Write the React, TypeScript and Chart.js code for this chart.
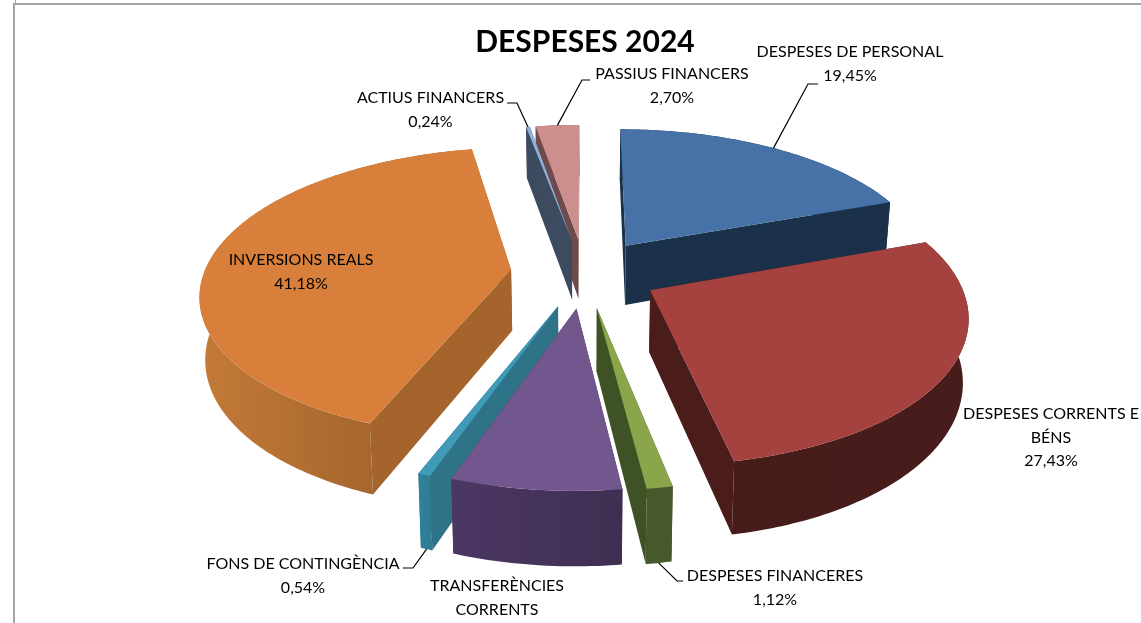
import React, { useEffect, useRef } from "react";
import { Chart, registerables } from "chart.js";

Chart.register(...registerables);

const categories = [
  "DESPESES DE PERSONAL",
  "DESPESES CORRENTS E BÉNS",
  "DESPESES FINANCERES",
  "TRANSFERÈNCIES CORRENTS",
  "FONS DE CONTINGÈNCIA",
  "INVERSIONS REALS",
  "ACTIUS FINANCERS",
  "PASSIUS FINANCERS",
];
const shares = [19.45, 27.43, 1.12, 7.34, 0.54, 41.18, 0.24, 2.7];
const topColors = ["#4672A8", "#A54240", "#8AA54A", "#72568E", "#3F9BB7", "#D8803B", "#93B1D8", "#CD8F8E"];
const wallColors = ["#1B3049", "#4A1D1B", "#3F5226", "#443256", "#2F7388", "#A4642B", "#3D4B60", "#6E4B4A"];
const rimFrom = ["#1B3049", "#461C19", "#47592A", "#4B3763", "#2F8099", "#C47A38", "#3D4B60", "#6E4B4A"];
const rimTo = ["#1B3049", "#481C1B", "#47592A", "#3E2F52", "#2F7D95", "#945A27", "#3D4B60", "#6E4B4A"];
const paintOrder = [7, 6, 0, 5, 1, 4, 3, 2];

// label layout: text lines per category, centre x, first baseline-centre y
const labelLines = [
  ["DESPESES DE PERSONAL"],
  ["DESPESES CORRENTS E", "BÉNS"],
  ["DESPESES FINANCERES"],
  ["TRANSFERÈNCIES", "CORRENTS"],
  ["FONS DE CONTINGÈNCIA"],
  ["INVERSIONS REALS"],
  ["ACTIUS FINANCERS"],
  ["PASSIUS FINANCERS"],
];
const labelX = [850, 1051, 775, 497, 303, 301, 430.5, 672];
const labelY = [52, 414, 576, 586, 564, 260, 98, 74];
// leader lines: category index, anchored on the rim's top (0) or bottom (1) edge, elbow and end
const leaders = [
  { i: 0, z: 0, elbow: [808, 84], end: [818, 84] },
  { i: 6, z: 0, elbow: [517, 103], end: [507, 103] },
  { i: 7, z: 0, elbow: [582, 80], end: [590, 80] },
  { i: 4, z: 1, elbow: [413, 568], end: [403, 568] },
  { i: 2, z: 1, elbow: [677, 581], end: [683, 581] },
];

const VIEW = { cx: 584.5, cy: 273, radius: 307, squash: 0.463, persp: 1990, depth: 61, lowerScale: 0.985 };

const project = (u: number, v: number, z: number) => {
  const s = 1 / (1 + v / VIEW.persp);
  const xs = z ? VIEW.lowerScale : 1;
  return [VIEW.cx + u * s * xs, VIEW.cy - VIEW.squash * v * s + z * VIEW.depth * s];
};

const geometry = (el: any) => {
  const p = el.getProps(["startAngle", "endAngle", "outerRadius"], true);
  const off = el.options.offset;
  const mid = (p.startAngle + p.endAngle) / 2;
  return { a0: p.startAngle, a1: p.endAngle, ox: Math.cos(mid) * off, oy: -Math.sin(mid) * off };
};

const polygon = (ctx: CanvasRenderingContext2D, pts: number[][]) => {
  ctx.beginPath();
  pts.forEach((q, i) => (i ? ctx.lineTo(q[0], q[1]) : ctx.moveTo(q[0], q[1])));
  ctx.closePath();
};

const pie3d = {
  id: "pie3d",
  beforeDatasetDraw(chart: any) {
    const ctx: CanvasRenderingContext2D = chart.ctx;
    const arcs = chart.getDatasetMeta(0).data;
    ctx.save();
    paintOrder.forEach((i) => {
      const g = geometry(arcs[i]);
      const n = Math.max(2, Math.ceil((g.a1 - g.a0) * 60));
      const rim = (z: number) => {
        const pts: number[][] = [];
        for (let k = 0; k <= n; k++) {
          const a = g.a0 + ((g.a1 - g.a0) * k) / n;
          pts.push(project(g.ox + VIEW.radius * Math.cos(a), g.oy - VIEW.radius * Math.sin(a), z));
        }
        return pts;
      };
      const top = rim(0);
      const low = rim(1);
      const tip0 = project(g.ox, g.oy, 0);
      const tip1 = project(g.ox, g.oy, 1);
      // radial walls
      ctx.fillStyle = wallColors[i];
      polygon(ctx, [tip0, top[0], low[0], tip1]);
      ctx.fill();
      polygon(ctx, [tip0, top[n], low[n], tip1]);
      ctx.fill();
      // outer wall
      const xs = top.map((q) => q[0]);
      const grad = ctx.createLinearGradient(Math.min(...xs), 0, Math.max(...xs) + 1, 0);
      grad.addColorStop(0, rimFrom[i]);
      grad.addColorStop(1, rimTo[i]);
      ctx.fillStyle = grad;
      polygon(ctx, [...top, ...low.slice().reverse()]);
      ctx.fill();
      // top face
      polygon(ctx, [tip0, ...top]);
      ctx.fillStyle = topColors[i];
      ctx.fill();
    });
    ctx.restore();
    return false;
  },
  afterDatasetsDraw(chart: any) {
    const ctx: CanvasRenderingContext2D = chart.ctx;
    const arcs = chart.getDatasetMeta(0).data;
    ctx.save();
    ctx.strokeStyle = "#000";
    ctx.lineWidth = 1.2;
    leaders.forEach((l) => {
      const g = geometry(arcs[l.i]);
      const mid = (g.a0 + g.a1) / 2;
      const a = project(g.ox + VIEW.radius * Math.cos(mid), g.oy - VIEW.radius * Math.sin(mid), l.z);
      ctx.beginPath();
      ctx.moveTo(a[0], a[1]);
      ctx.lineTo(l.elbow[0], l.elbow[1]);
      ctx.lineTo(l.end[0], l.end[1]);
      ctx.stroke();
    });
    ctx.fillStyle = "#000";
    ctx.font = "16px Lato";
    ctx.textAlign = "center";
    ctx.textBaseline = "middle";
    labelLines.forEach((lines, i) => {
      const all = [...lines, shares[i].toFixed(2).replace(".", ",") + "%"];
      all.forEach((t, k) => ctx.fillText(t, labelX[i], labelY[i] + k * 23.5));
    });
    ctx.restore();
  },
};

export default function App() {
  const ref = useRef<HTMLCanvasElement>(null);
  useEffect(() => {
    const chart = new Chart(ref.current!, {
      type: "pie",
      data: {
        labels: categories,
        datasets: [{ data: shares, backgroundColor: topColors, offset: 74, borderWidth: 0 }],
      },
      options: {
        animation: false,
        responsive: false,
        layout: { padding: { left: 29 } },
        plugins: {
          legend: { display: false },
          tooltip: { enabled: false },
          title: {
            display: true,
            text: "DESPESES 2024",
            color: "#000",
            font: { family: "Lato", size: 30, weight: "bold" },
            padding: { top: 24, bottom: 0 },
          },
        },
      },
      plugins: [pie3d],
    } as any);
    return () => chart.destroy();
  }, []);
  return (
    <div style={{ position: "absolute", left: 0, top: 0, width: 1141, height: 623, overflow: "hidden", background: "#fff" }}>
      <canvas ref={ref} width={1141} height={623} style={{ display: "block" }} />
      <div style={{ position: "absolute", left: 13, top: 3, right: 0, height: 2, background: "#A6A6A6" }} />
      <div style={{ position: "absolute", left: 13, top: 3, bottom: 0, width: 2, background: "#A6A6A6" }} />
      <div style={{ position: "absolute", left: 15, top: 0, height: 3, width: 1, background: "#A6A6A6" }} />
    </div>
  );
}
